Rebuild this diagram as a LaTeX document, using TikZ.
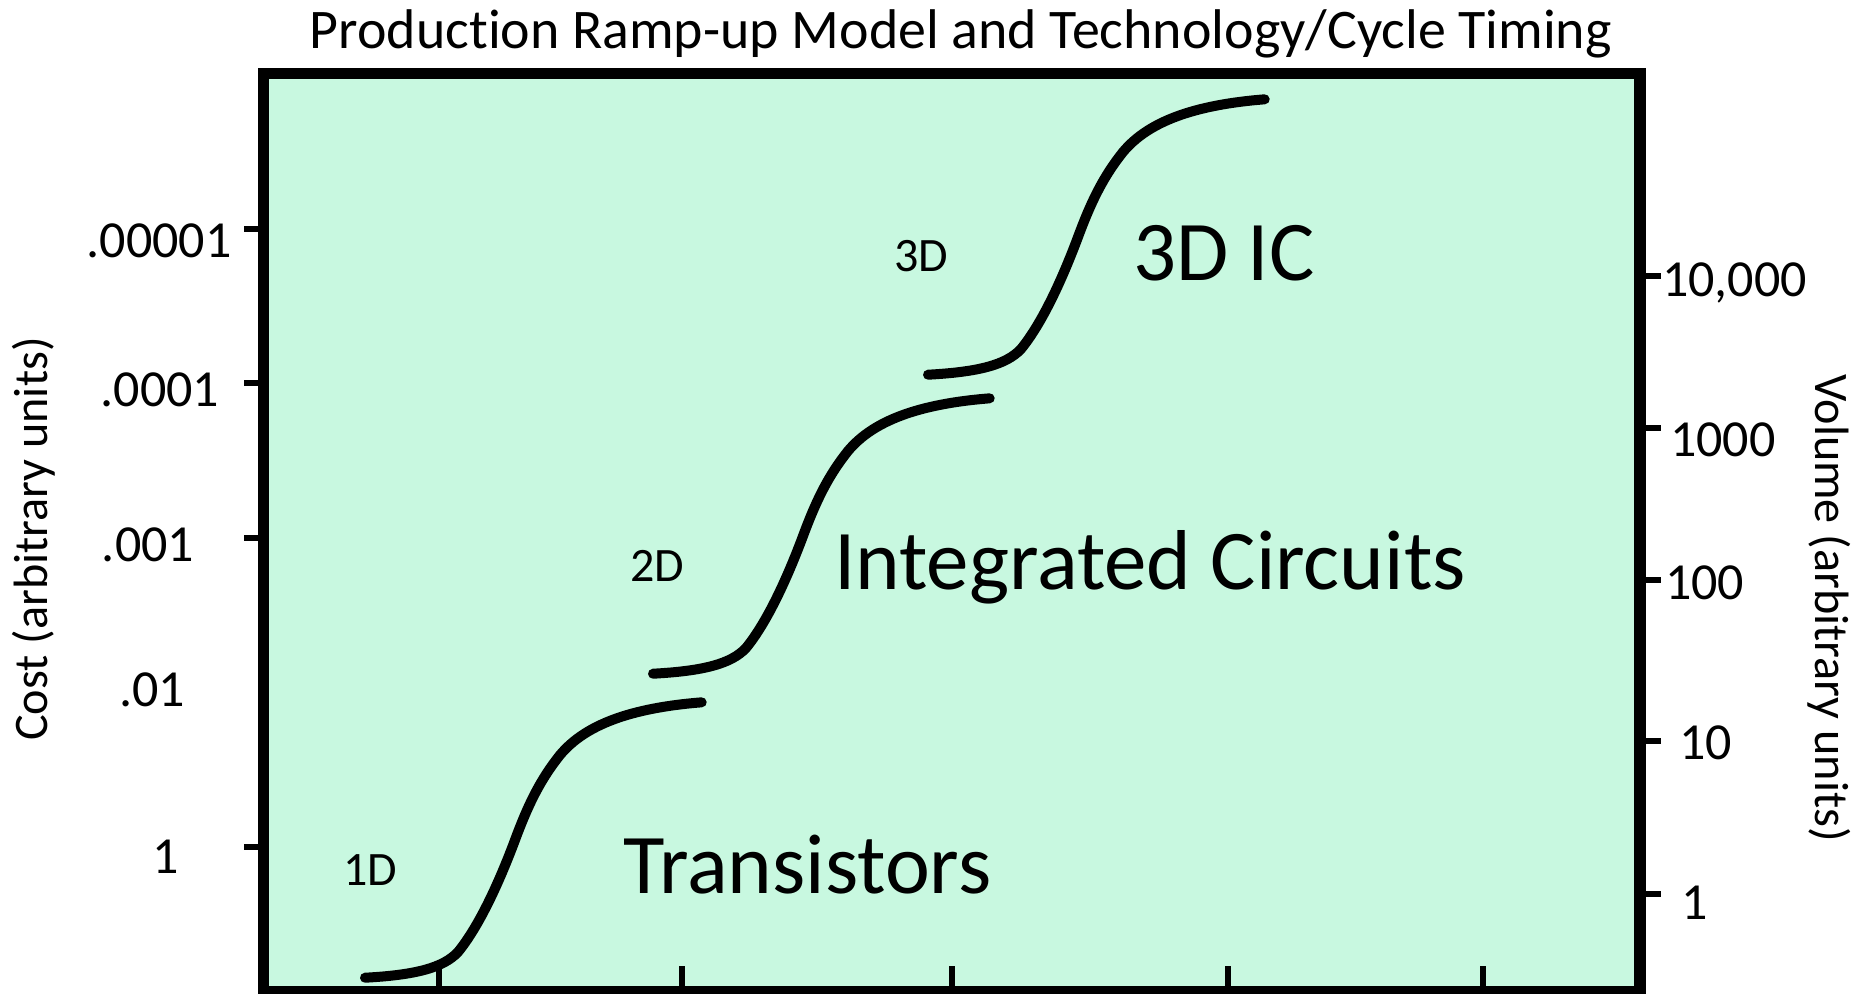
\documentclass[tikz,border=0pt]{standalone}
\usepackage{fontspec}
\setmainfont{Carlito}[Ligatures=NoCommon]
\definecolor{mint}{RGB}{200,248,224}
\begin{document}
\begin{tikzpicture}[x=0.5pt,y=-0.5pt,
  frame/.style={line width=5.85pt, fill=mint},
  axtick/.style={line width=3pt},
  ramp/.style={line width=5pt, line cap=round, line join=round},
  txt/.style={inner sep=0pt, outer sep=0pt},
  titletxt/.style={txt, anchor=base, font=\fontsize{27.95}{30}\selectfont},
  ticklbl/.style={txt, font=\fontsize{26}{28}\selectfont},
  axislbl/.style={txt, anchor=base, font=\fontsize{24.1}{26}\selectfont},
  biglbl/.style={txt, anchor=base west, font=\fontsize{42.5}{45}\selectfont},
  smalllbl/.style={txt, anchor=base west, font=\fontsize{24}{26}\selectfont}]
\useasboundingbox (0,0) rectangle (1871,993);

% plot frame
\draw[frame] (263.5,73.5) rectangle (1640,991.5);

% left (cost) ticks
\foreach \ty in {229,383,538,847}
  \draw[axtick] (244,\ty) -- (263.5,\ty);
% right (volume) ticks
\foreach \ty in {276,428,580,741,894}
  \draw[axtick] (1640,\ty) -- (1661,\ty);
% bottom (time) ticks
\foreach \tx in {439,681.7,952,1228,1483.3}
  \draw[axtick] (\tx,966) -- (\tx,991.5);

% three ramp-up S-curves of identical shape
\foreach \dx/\dy in {0/0, 288/-304, 563/-603}
  \draw[ramp, shift={(\dx,\dy)}]
    (365,977.7) .. controls (415,975) and (443,968) .. (458,952)
    .. controls (480,925) and (500,880) .. (515,840)
    .. controls (528,805) and (540,780) .. (560,755)
    .. controls (585,725) and (630,708) .. (701.7,702.3);

% title
\node[titletxt] (title) at (961,48) {Production Ramp-up Model and Technology/Cycle Timing};

% cost labels
\node[ticklbl, anchor=base] (c5) at (159,257) {.00001};
\node[ticklbl, anchor=base] (c4) at (160,406) {.0001};
\node[ticklbl, anchor=base] (c3) at (148,561) {.001};
\node[ticklbl, anchor=base] (c2) at (152,706) {.01};
\node[ticklbl, anchor=base] (c0) at (165.5,873) {1};

% volume labels
\node[ticklbl, anchor=base west] (v4) at (1662,296) {10,000};
\node[ticklbl, anchor=base west] (v3) at (1670,456) {1000};
\node[ticklbl, anchor=base west] (v2) at (1665,599) {100};
\node[ticklbl, anchor=base west] (v1) at (1679,759) {10};
\node[ticklbl, anchor=base west] (v0) at (1681.7,919) {1};

% axis titles
\node[axislbl, rotate=90] (costaxis) at (47,539) {Cost (arbitrary units)};
\node[axislbl, rotate=-90] (volaxis) at (1815,608) {Volume (arbitrary units)};

% technology labels
\node[biglbl] (tr) at (623,893) {Transistors};
\node[biglbl] (ic) at (834,589) {Integrated Circuits};
\node[biglbl] (ic3) at (1133,280) {3D IC};
\node[smalllbl] (d1) at (343,885) {1D};
\node[smalllbl] (d2) at (630,581.7) {2D};
\node[smalllbl] (d3) at (894,271) {3D};
\end{tikzpicture}
\end{document}
